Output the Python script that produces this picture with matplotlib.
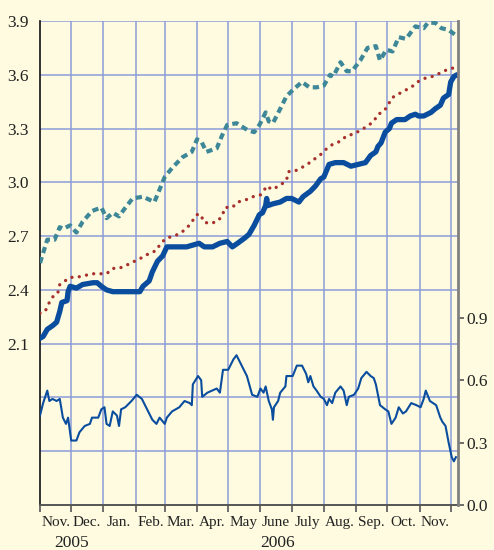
import matplotlib
matplotlib.use("Agg")
import matplotlib.pyplot as plt
import matplotlib.transforms as mtransforms
import pandas as pd

# ---------------- data ----------------
teal_dates = ["2005-11-01","2005-11-08","2005-11-15","2005-11-20","2005-11-23","2005-11-30",
              "2005-12-06","2005-12-12","2005-12-21","2005-12-30","2006-01-04","2006-01-10",
              "2006-01-16","2006-01-21","2006-01-29","2006-02-08","2006-02-19","2006-02-24",
              "2006-03-01","2006-03-08","2006-03-18","2006-03-27","2006-04-01","2006-04-05",
              "2006-04-10","2006-04-20","2006-04-25","2006-04-30","2006-05-09","2006-05-20",
              "2006-05-26","2006-05-31","2006-06-06","2006-06-09","2006-06-13","2006-06-20",
              "2006-06-26","2006-07-03","2006-07-11","2006-07-18","2006-07-25","2006-08-01",
              "2006-08-07","2006-08-10","2006-08-17","2006-08-23","2006-08-28","2006-09-05",
              "2006-09-12","2006-09-20","2006-09-24","2006-09-30","2006-10-06","2006-10-12",
              "2006-10-19","2006-10-28","2006-11-05","2006-11-09","2006-11-16","2006-11-22",
              "2006-11-29","2006-12-06"]
teal_vals = [2.55,2.68,2.68,2.75,2.74,2.76,
             2.72,2.78,2.84,2.86,2.80,2.83,
             2.81,2.85,2.91,2.92,2.89,2.96,
             3.03,3.08,3.14,3.17,3.24,3.23,
             3.17,3.19,3.26,3.32,3.33,3.29,
             3.28,3.32,3.39,3.34,3.33,3.41,
             3.48,3.52,3.56,3.53,3.53,3.54,
             3.60,3.59,3.67,3.62,3.62,3.68,
             3.75,3.76,3.68,3.74,3.73,3.81,
             3.80,3.87,3.86,3.89,3.89,3.86,
             3.85,3.82]

red_dates = ["2005-11-01","2005-11-06","2005-11-09","2005-11-13","2005-11-18","2005-11-20",
             "2005-11-25","2005-11-30","2005-12-06","2005-12-14","2005-12-21","2005-12-28",
             "2006-01-04","2006-01-10","2006-01-16","2006-01-24","2006-01-31","2006-02-07",
             "2006-02-13","2006-02-21","2006-02-25","2006-03-03","2006-03-10","2006-03-17",
             "2006-03-23","2006-03-27","2006-04-01","2006-04-05","2006-04-07","2006-04-13",
             "2006-04-20","2006-04-25","2006-04-28","2006-05-05","2006-05-10","2006-05-17",
             "2006-05-25","2006-06-01","2006-06-05","2006-06-07","2006-06-12","2006-06-19",
             "2006-06-26","2006-06-28","2006-07-03","2006-07-10","2006-07-16","2006-07-23",
             "2006-07-30","2006-08-04","2006-08-09","2006-08-17","2006-08-23","2006-08-30",
             "2006-09-05","2006-09-11","2006-09-18","2006-09-22","2006-09-26","2006-10-01",
             "2006-10-05","2006-10-11","2006-10-17","2006-10-24","2006-10-30","2006-11-06",
             "2006-11-13","2006-11-21","2006-11-28","2006-12-05"]
red_vals = [2.27,2.28,2.32,2.36,2.38,2.43,
            2.45,2.47,2.47,2.48,2.49,2.49,
            2.49,2.52,2.52,2.54,2.56,2.58,
            2.60,2.62,2.66,2.69,2.70,2.72,
            2.75,2.78,2.82,2.82,2.78,2.77,
            2.78,2.81,2.86,2.86,2.89,2.90,
            2.92,2.93,2.96,2.98,2.96,2.98,
            3.01,3.06,3.06,3.08,3.10,3.13,
            3.16,3.19,3.21,3.23,3.26,3.27,
            3.29,3.31,3.34,3.38,3.39,3.42,
            3.47,3.49,3.51,3.53,3.56,3.58,
            3.59,3.61,3.63,3.64]

blue_dates = ["2005-11-01","2005-11-04","2005-11-08","2005-11-13","2005-11-17","2005-11-20",
              "2005-11-22","2005-11-27","2005-11-28","2005-11-30","2005-12-06","2005-12-12",
              "2005-12-22","2005-12-26","2005-12-30","2006-01-04","2006-01-10","2006-01-29",
              "2006-02-05","2006-02-08","2006-02-14","2006-02-17","2006-02-22","2006-02-27",
              "2006-03-03","2006-03-08","2006-03-22","2006-03-28","2006-04-03","2006-04-08",
              "2006-04-16","2006-04-23","2006-04-30","2006-05-05","2006-05-10","2006-05-17",
              "2006-05-21","2006-05-26","2006-05-31","2006-06-03","2006-06-06","2006-06-07",
              "2006-06-08","2006-06-13","2006-06-20","2006-06-26","2006-07-01","2006-07-08",
              "2006-07-12","2006-07-19","2006-07-24","2006-07-29","2006-08-01","2006-08-06",
              "2006-08-12","2006-08-20","2006-08-27","2006-09-03","2006-09-10","2006-09-15",
              "2006-09-20","2006-09-22","2006-09-25","2006-09-29","2006-10-03","2006-10-05",
              "2006-10-10","2006-10-18","2006-10-23","2006-10-28","2006-10-31","2006-11-05",
              "2006-11-12","2006-11-16","2006-11-21","2006-11-24","2006-11-29","2006-12-01",
              "2006-12-04","2006-12-07"]
blue_vals = [2.13,2.14,2.18,2.20,2.22,2.28,
             2.33,2.34,2.39,2.42,2.41,2.43,
             2.44,2.44,2.42,2.40,2.39,2.39,
             2.39,2.42,2.45,2.50,2.56,2.59,
             2.64,2.64,2.64,2.65,2.66,2.64,
             2.64,2.66,2.67,2.64,2.66,2.69,
             2.71,2.76,2.82,2.83,2.87,2.91,
             2.87,2.88,2.89,2.91,2.91,2.89,
             2.92,2.95,2.98,3.02,3.03,3.10,
             3.11,3.11,3.09,3.10,3.11,3.15,
             3.17,3.20,3.22,3.28,3.30,3.33,
             3.35,3.35,3.37,3.38,3.37,3.37,
             3.39,3.41,3.43,3.47,3.49,3.56,
             3.59,3.60]

low_dates = ["2005-11-01","2005-11-04","2005-11-08","2005-11-10","2005-11-13","2005-11-17",
             "2005-11-20","2005-11-23","2005-11-26","2005-11-28","2005-12-01","2005-12-06",
             "2005-12-09","2005-12-14","2005-12-19","2005-12-21","2005-12-27","2005-12-30",
             "2006-01-02","2006-01-04","2006-01-07","2006-01-10","2006-01-14","2006-01-16",
             "2006-01-18","2006-01-22","2006-01-28","2006-02-02","2006-02-07","2006-02-11",
             "2006-02-17","2006-02-21","2006-02-24","2006-03-01","2006-03-03","2006-03-08",
             "2006-03-15","2006-03-20","2006-03-25","2006-03-27","2006-03-28","2006-04-02",
             "2006-04-05","2006-04-06","2006-04-11","2006-04-20","2006-04-23","2006-04-26",
             "2006-05-01","2006-05-06","2006-05-09","2006-05-12","2006-05-19","2006-05-24",
             "2006-05-29","2006-06-01","2006-06-04","2006-06-06","2006-06-09","2006-06-12",
             "2006-06-13","2006-06-14","2006-06-18","2006-06-20","2006-06-25","2006-06-26",
             "2006-07-02","2006-07-06","2006-07-11","2006-07-15","2006-07-17","2006-07-19",
             "2006-07-22","2006-07-25","2006-07-29","2006-08-01","2006-08-04","2006-08-06",
             "2006-08-09","2006-08-12","2006-08-17","2006-08-20","2006-08-23","2006-08-25",
             "2006-08-30","2006-09-03","2006-09-06","2006-09-11","2006-09-15","2006-09-18",
             "2006-09-20","2006-09-24","2006-09-29","2006-10-02","2006-10-05","2006-10-09",
             "2006-10-12","2006-10-16","2006-10-19","2006-10-24","2006-10-29","2006-11-02",
             "2006-11-05","2006-11-07","2006-11-11","2006-11-14","2006-11-17","2006-11-21",
             "2006-11-23","2006-11-26","2006-11-29","2006-12-02","2006-12-04","2006-12-06"]
low_vals = [0.43,0.49,0.55,0.50,0.51,0.50,
            0.51,0.42,0.39,0.42,0.31,0.31,
            0.35,0.38,0.39,0.42,0.42,0.46,
            0.47,0.39,0.38,0.45,0.43,0.38,
            0.46,0.47,0.50,0.53,0.51,0.47,
            0.41,0.39,0.42,0.39,0.42,0.45,
            0.47,0.50,0.49,0.48,0.58,0.62,
            0.60,0.52,0.54,0.56,0.54,0.65,
            0.65,0.70,0.72,0.69,0.62,0.53,
            0.52,0.56,0.54,0.57,0.50,0.46,
            0.41,0.47,0.50,0.54,0.57,0.62,
            0.62,0.67,0.67,0.63,0.59,0.62,
            0.57,0.55,0.52,0.51,0.48,0.51,
            0.49,0.54,0.57,0.55,0.48,0.52,
            0.53,0.56,0.61,0.64,0.62,0.61,
            0.58,0.48,0.46,0.45,0.39,0.42,
            0.47,0.44,0.45,0.49,0.48,0.47,
            0.51,0.55,0.50,0.49,0.48,0.42,
            0.40,0.38,0.30,0.23,0.21,0.23]

month_labels = ["Nov.", "Dec.", "Jan.", "Feb.", "Mar.", "Apr.", "May", "June",
                "July", "Aug.", "Sep.", "Oct.", "Nov."]
year_labels = ["2005", "2006"]
year_centers = ["2005-12-01", "2006-06-17"]
left_ticks = [1.2, 1.5, 1.8, 2.1, 2.4, 2.7, 3.0, 3.3, 3.6, 3.9]
right_ticks = [0.0, 0.3, 0.6, 0.9]

# ---------------- style ----------------
BG = "#FEFBE0"
GRID = "#8C9CD8"
BLUE = "#0A4D9E"
TEAL = "#3D8798"
RED = "#A8302C"
plt.rcParams["font.family"] = ["Liberation Serif", "DejaVu Serif"]

fig = plt.figure(figsize=(4.94, 5.50), dpi=100, facecolor=BG)
ax = fig.add_axes([40/494, 45/550, 418/494, 484/550])
ax.set_facecolor(BG)
ax2 = ax.twinx()

td = pd.to_datetime(teal_dates)
rd = pd.to_datetime(red_dates)
bd = pd.to_datetime(blue_dates)
ld = pd.to_datetime(low_dates)

x0 = pd.Timestamp("2005-11-01")
x1 = pd.Timestamp("2006-12-08")

# grid
month_starts = pd.date_range("2005-11-01", "2006-12-01", freq="MS")
for m in month_starts[1:]:
    ax.axvline(m, color=GRID, lw=1.1, zorder=0)
for t in left_ticks[1:]:
    ax.axhline(t, color=GRID, lw=1.1, zorder=0)

ax.plot(td, teal_vals, color=TEAL, lw=3.0, linestyle=(0, (1.5, 1.0)), zorder=3)
ax.plot(rd, red_vals, color=RED, lw=2.4, linestyle=(0, (0.01, 2.2)),
        dash_capstyle="round", zorder=3)
ax.plot(bd, blue_vals, color=BLUE, lw=3.8, solid_joinstyle="round",
        solid_capstyle="round", zorder=4)
ax2.plot(ld, low_vals, color=BLUE, lw=1.5, zorder=4)

ax.set_xlim(x0, x1)
ax.set_ylim(1.2, 3.9)
ax2.set_ylim(0, 484/208)

# left axis ticks
ax.set_yticks(left_ticks)
ax.set_yticklabels(["" if t < 2.0 else f"{t:.1f}" for t in left_ticks], fontsize=12.5)
ax.tick_params(axis="y", length=0, pad=8, colors="#222222")

# right axis
ax2.set_yticks(right_ticks)
ax2.set_yticklabels([f"{t:.1f}" for t in right_ticks], fontsize=12.5)
ax2.tick_params(axis="y", length=4, width=1.2, pad=2, colors="#555555", labelcolor="#222222")

# x ticks: majors at month starts (no labels), minors at mid-month (labels)
ax.set_xticks(month_starts)
ax.set_xticklabels([])
ax.tick_params(axis="x", which="major", length=5, width=1.2, colors="#555555", direction="out")
mids = [m + pd.Timedelta(days=15) for m in month_starts[:-1]]
ax.set_xticks(mids, minor=True)
ax.set_xticklabels(month_labels, minor=True, fontsize=11)
ax.tick_params(axis="x", which="minor", length=0, pad=8, labelcolor="#222222")

# year labels
trans = mtransforms.blended_transform_factory(ax.transData, ax.transAxes)
for yc, yl in zip(year_centers, year_labels):
    ax.text(pd.Timestamp(yc), -42/484, yl, transform=trans, ha="center", va="baseline",
            fontsize=12.5, color="#222222")

# spines
for a in (ax, ax2):
    for s in ("top", "left", "right", "bottom"):
        a.spines[s].set_visible(False)
ax.spines["left"].set_visible(True)
ax.spines["left"].set_color("#111111")
ax.spines["left"].set_linewidth(1.2)
ax.spines["bottom"].set_visible(True)
ax.spines["bottom"].set_color("#555555")
ax.spines["bottom"].set_linewidth(1.4)
ax2.spines["right"].set_visible(True)
ax2.spines["right"].set_color("#808080")
ax2.spines["right"].set_linewidth(2.0)

fig.savefig("out.png", dpi=100, facecolor=BG)
